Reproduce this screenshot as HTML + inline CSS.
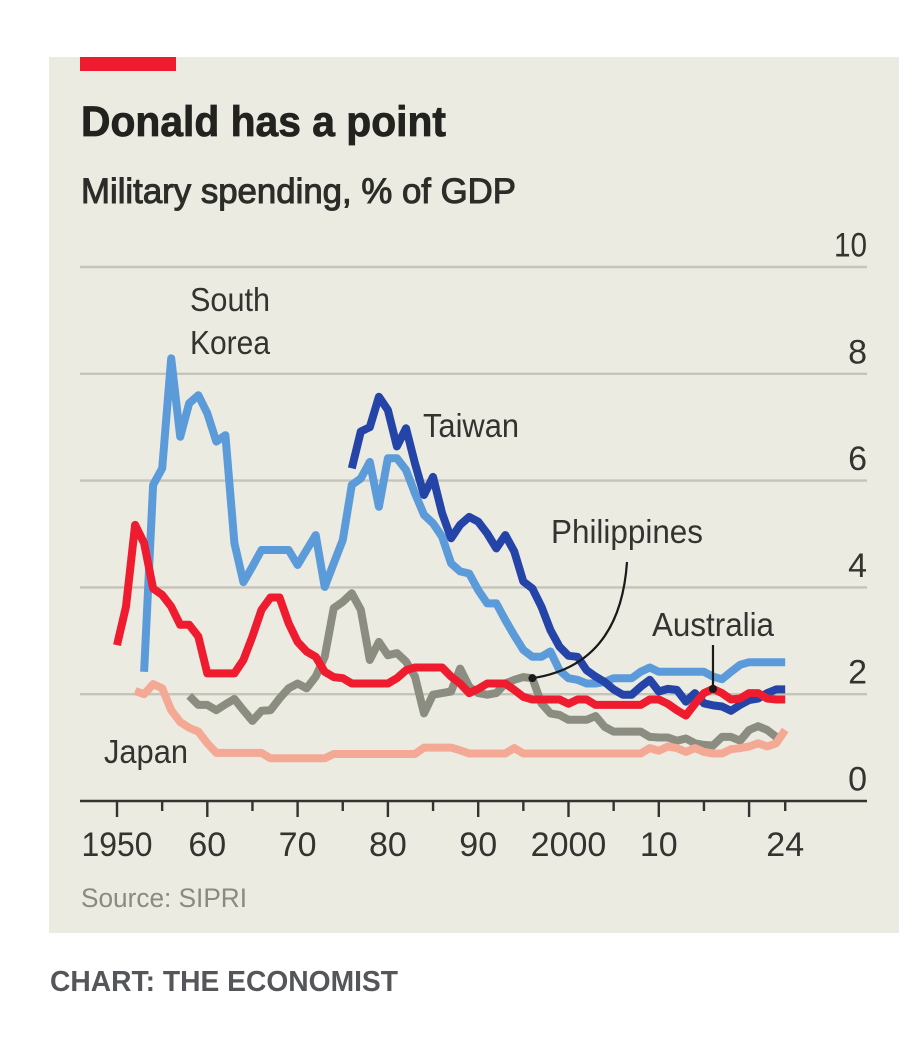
<!DOCTYPE html>
<html lang="en">
<head>
<meta charset="utf-8">
<title>Donald has a point</title>
<style>
html,body{margin:0;padding:0;background:#fff;}
body{width:918px;height:1040px;overflow:hidden;}
svg{display:block;font-family:"Liberation Sans",Arial,sans-serif;}
</style>
</head>
<body>
<svg id="chart" width="918" height="1040" viewBox="0 0 918 1040" xmlns="http://www.w3.org/2000/svg">
  <rect x="49" y="57" width="850" height="876" fill="#ebebe2"/>
  <rect x="80" y="57" width="96" height="14" fill="#ee1c2e"/>
  <text x="81" y="136" font-size="43" font-weight="700" stroke="#22221f" stroke-width="0.8" fill="#22221f" textLength="365" lengthAdjust="spacingAndGlyphs">Donald has a point</text>
  <text x="81" y="203" font-size="35" font-weight="400" stroke="#2c2c28" stroke-width="1" fill="#2c2c28" textLength="435" lengthAdjust="spacingAndGlyphs">Military spending, % of GDP</text>
  <g id="grid"></g>
  <g id="y-labels"></g>
  <g id="series"></g>
  <g id="x-axis"></g>
  <g id="annotations"></g>
  <g font-size="33" fill="#33332f">
    <text x="190" y="311" textLength="80" lengthAdjust="spacingAndGlyphs">South</text>
    <text x="190" y="354" textLength="80" lengthAdjust="spacingAndGlyphs">Korea</text>
    <text x="423" y="437" textLength="96" lengthAdjust="spacingAndGlyphs">Taiwan</text>
    <text x="551" y="543" textLength="152" lengthAdjust="spacingAndGlyphs">Philippines</text>
    <text x="652" y="636" textLength="122" lengthAdjust="spacingAndGlyphs">Australia</text>
    <text x="104" y="763" textLength="84" lengthAdjust="spacingAndGlyphs">Japan</text>
  </g>
  <text x="81" y="907" font-size="27" fill="#8a8a80" textLength="166" lengthAdjust="spacingAndGlyphs">Source: SIPRI</text>
  <text x="50" y="991" font-size="29" font-weight="700" fill="#55565a" textLength="348" lengthAdjust="spacingAndGlyphs">CHART: THE ECONOMIST</text>
</svg>
<script>
const yTicks = [0, 2, 4, 6, 8, 10];
const xMajorYears = [1950, 1960, 1970, 1980, 1990, 2000, 2010, 2020];
const xMinorYears = [1955, 1965, 1975, 1985, 1995, 2005, 2015, 2024];
const xLabelYears = [1950, 1960, 1970, 1980, 1990, 2000, 2010, 2024];
const xLabelText = ["1950", "60", "70", "80", "90", "2000", "10", "24"];

const japanStart = 1952;
const japanValues = [2.06,2.0,2.19,2.11,1.7,1.48,1.37,1.3,1.08,0.9,0.9,0.9,0.9,0.9,0.9,0.8,0.8,0.8,0.8,0.8,0.8,0.8,0.88,0.88,0.88,0.88,0.88,0.88,0.88,0.88,0.88,0.88,1.0,1.0,1.0,1.0,0.95,0.89,0.89,0.89,0.89,0.89,0.99,0.89,0.89,0.89,0.89,0.89,0.89,0.89,0.89,0.89,0.89,0.89,0.89,0.89,0.89,0.99,0.94,1.02,0.99,0.92,0.99,0.92,0.89,0.89,0.97,0.99,1.02,1.08,1.02,1.08,1.33];

const philippinesStart = 1958;
const philippinesValues = [1.97,1.8,1.8,1.7,1.81,1.91,1.7,1.5,1.69,1.7,1.92,2.11,2.2,2.11,2.33,2.7,3.61,3.73,3.89,3.58,2.64,2.98,2.73,2.77,2.61,2.33,1.64,1.99,2.02,2.05,2.48,2.14,2.02,1.99,2.02,2.2,2.27,2.32,2.3,1.83,1.64,1.61,1.52,1.52,1.52,1.59,1.39,1.3,1.3,1.3,1.3,1.2,1.19,1.19,1.13,1.17,1.08,1.05,1.04,1.2,1.2,1.13,1.33,1.4,1.33,1.2];

const southKoreaStart = 1953;
const southKoreaValues = [2.42,5.92,6.23,8.29,6.82,7.45,7.6,7.26,6.73,6.85,4.83,4.1,4.39,4.7,4.7,4.7,4.7,4.42,4.7,4.98,4.01,4.45,4.89,5.92,6.04,6.35,5.51,6.42,6.42,6.2,5.76,5.36,5.2,4.95,4.45,4.3,4.26,3.95,3.7,3.7,3.39,3.1,2.83,2.7,2.7,2.8,2.45,2.3,2.27,2.2,2.2,2.23,2.3,2.3,2.3,2.42,2.5,2.42,2.42,2.42,2.42,2.42,2.42,2.33,2.28,2.42,2.55,2.6,2.6,2.6,2.6,2.6];

const taiwanStart = 1976;
const taiwanValues = [6.23,6.92,7.0,7.57,7.32,6.64,6.98,6.32,5.73,6.07,5.39,4.92,5.17,5.32,5.23,5.01,4.73,4.98,4.67,4.11,3.98,3.64,3.2,2.89,2.72,2.7,2.45,2.33,2.23,2.09,1.99,1.99,2.14,2.27,2.05,2.1,2.08,1.86,2.02,1.83,1.79,1.77,1.69,1.8,1.89,1.92,2.02,2.09,2.09];

const australiaStart = 1950;
const australiaValues = [2.92,3.64,5.17,4.83,3.98,3.86,3.64,3.3,3.3,3.08,2.39,2.39,2.39,2.39,2.64,3.08,3.58,3.81,3.81,3.33,2.98,2.8,2.7,2.42,2.32,2.3,2.2,2.2,2.2,2.2,2.2,2.3,2.45,2.5,2.5,2.5,2.5,2.33,2.2,2.02,2.1,2.2,2.2,2.2,2.08,1.95,1.9,1.9,1.9,1.9,1.82,1.9,1.9,1.8,1.8,1.8,1.8,1.8,1.8,1.9,1.9,1.82,1.7,1.6,1.82,2.02,2.1,2.02,1.9,1.92,2.02,2.02,1.92,1.9,1.9];

const philippinesCalloutYear = 1996;
const australiaCalloutYear = 2016;

const NS = "http://www.w3.org/2000/svg";
function xScale(year) { return 117 + (year - 1950) * 9.03; }
function yScale(value) { return 801 - value * 53.4; }

function makeEl(tag, parent, attrs) {
  const el = document.createElementNS(NS, tag);
  Object.keys(attrs).forEach(function (k) { el.setAttribute(k, attrs[k]); });
  parent.appendChild(el);
  return el;
}

const gridGroup = document.getElementById("grid");
const yLabelGroup = document.getElementById("y-labels");
yTicks.forEach(function (t) {
  if (t !== 0) {
    const line = makeEl("line", gridGroup, { x1: 80, x2: 867, y1: yScale(t), y2: yScale(t), stroke: "#c4c4b9", "stroke-width": 2.4 });
    
    
  }
  const label = makeEl("text", yLabelGroup, { x: 867, y: yScale(t) - 10.5, "text-anchor": "end", "font-size": 34, fill: "#33332f" });
  
  
  label.textContent = String(t);
  if (t === 10) {
    label.setAttribute('textLength', '33');
    label.setAttribute('lengthAdjust', 'spacingAndGlyphs');
  }
});

function drawSeries(name, startYear, values, color) {
  const parent = document.getElementById("series");
  const pts = values.map(function (v, i) {
    return xScale(startYear + i).toFixed(1) + "," + yScale(v).toFixed(1);
  }).join(" ");
  const line = makeEl("polyline", parent, { points: pts, fill: "none", stroke: color, "stroke-width": 8, "stroke-linejoin": "round", "stroke-linecap": "butt" });
  
  
}
drawSeries("philippines-line", philippinesStart, philippinesValues, "#8b8d81");
drawSeries("japan-line", japanStart, japanValues, "#f4a995");
drawSeries("south-korea-line", southKoreaStart, southKoreaValues, "#5c9bd9");
drawSeries("taiwan-line", taiwanStart, taiwanValues, "#2444a8");
drawSeries("australia-line", australiaStart, australiaValues, "#ee1c2e");

const xAxisGroup = document.getElementById("x-axis");
const axisLine = makeEl("line", xAxisGroup, { x1: 80, x2: 867, y1: yScale(0), y2: yScale(0), stroke: "#33332f", "stroke-width": 2.6 });


xMajorYears.forEach(function (yr) {
  const tick = makeEl("line", xAxisGroup, { x1: xScale(yr), x2: xScale(yr), y1: yScale(0), y2: yScale(0) + 16, stroke: "#33332f", "stroke-width": 2.4 });
  
  
});
xMinorYears.forEach(function (yr) {
  const tick = makeEl("line", xAxisGroup, { x1: xScale(yr), x2: xScale(yr), y1: yScale(0), y2: yScale(0) + 10, stroke: "#33332f", "stroke-width": 2.4 });
  
  
});
xLabelYears.forEach(function (yr, i) {
  const label = makeEl("text", xAxisGroup, { x: xScale(yr), y: 856, "text-anchor": "middle", "font-size": 34, fill: "#33332f" });
  
  
  label.textContent = xLabelText[i];
  if (xLabelText[i] === "1950") {
    label.setAttribute('textLength', '71');
    label.setAttribute('lengthAdjust', 'spacingAndGlyphs');
  }
});

const annotationGroup = document.getElementById("annotations");
const phX = xScale(philippinesCalloutYear);
const phY = yScale(philippinesValues[philippinesCalloutYear - philippinesStart]);
const phLeader = makeEl("path", annotationGroup, { d: "M" + phX + " " + phY + " Q 620 665 627 562", fill: "none", stroke: "#1a1a18", "stroke-width": 2.2 });


const phDot = makeEl("circle", annotationGroup, { cx: phX, cy: phY, r: 4, fill: "#1a1a18" });


const auX = xScale(australiaCalloutYear);
const auY = yScale(australiaValues[australiaCalloutYear - australiaStart]);
const auLeader = makeEl("line", annotationGroup, { x1: auX, x2: auX, y1: 645, y2: auY, stroke: "#1a1a18", "stroke-width": 2.2 });


const auDot = makeEl("circle", annotationGroup, { cx: auX, cy: auY, r: 4, fill: "#1a1a18" });


</script>
</body>
</html>
